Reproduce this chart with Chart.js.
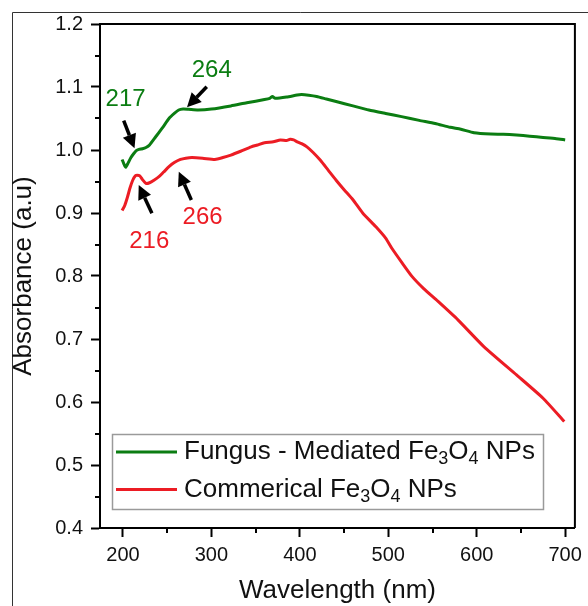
<!DOCTYPE html>
<html>
<head>
<meta charset="utf-8">
<script src="https://cdn.jsdelivr.net/npm/chart.js@4.4.1/dist/chart.umd.min.js"></script>
<style>
  html, body { margin: 0; padding: 0; background: #fff; }
  #wrap { width: 588px; height: 606px; }
</style>
</head>
<body>
<div id="wrap"><canvas id="uvChart" width="588" height="606"></canvas></div>
<script>
// Fungus-mediated Fe3O4 spectrum (wavelength nm / absorbance)
const fungusNm = [199, 201, 203, 206, 209, 212, 215, 218, 222, 226, 230, 237, 245, 252, 258, 263, 268, 274, 285, 300,
    322, 340, 360, 366, 369, 372, 385, 397, 402, 410, 419, 430, 441, 460, 478, 497, 515, 535, 553, 570,
    582, 597, 616, 630, 645, 660, 675, 690, 700];
const fungusAbs = [0.985, 0.978, 0.9725, 0.980, 0.988, 0.994, 0.999, 1.001, 1.002, 1.004, 1.008, 1.021, 1.036, 1.050, 1.058, 1.0635, 1.065, 1.0646, 1.0635, 1.065,
    1.070, 1.075, 1.080, 1.082, 1.085, 1.082, 1.084, 1.0873, 1.088, 1.087, 1.085, 1.081, 1.077, 1.070, 1.0635, 1.058, 1.053, 1.047, 1.042, 1.036,
    1.033, 1.0275, 1.0254, 1.025, 1.0238, 1.022, 1.020, 1.018, 1.016];

// Commercial Fe3O4 spectrum
const commNm = [199, 202, 205, 208, 211, 214, 216, 219, 222, 226, 230, 235, 241, 246, 252, 258, 265, 271, 278, 290,
    304, 313, 322, 333, 345, 352, 360, 370, 378, 385, 389, 393, 397, 402, 408, 415, 423, 432, 441, 450,
    460, 471, 486, 497, 504, 515, 527, 540, 556, 579, 608, 645, 675, 699];
const commAbs = [0.904, 0.912, 0.925, 0.940, 0.952, 0.959, 0.960, 0.959, 0.953, 0.947, 0.948, 0.952, 0.958, 0.965, 0.9735, 0.980, 0.985, 0.987, 0.988, 0.987,
    0.985, 0.988, 0.992, 0.998, 1.005, 1.008, 1.0116, 1.013, 1.016, 1.015, 1.017, 1.016, 1.013, 1.010, 1.005, 0.996, 0.984, 0.968, 0.952, 0.937,
    0.921, 0.900, 0.878, 0.860, 0.844, 0.822, 0.799, 0.780, 0.760, 0.730, 0.688, 0.643, 0.606, 0.569];

const seriesNames = ['Fungus - Mediated Fe₃O₄ NPs', 'Commerical Fe₃O₄ NPs'];
const seriesColors = ['#0b7d12', '#ec1c24'];

// peak labels with arrows (text position + arrow tail/head, in data units)
const peakLabels = ['217', '264', '216', '266'];
const peakSeries = [0, 0, 1, 1];
const peakTextX = [203, 300.4, 229.7, 290];
const peakTextY = [1.081, 1.126, 0.8556, 0.893];
const arrowTail = [[200.8, 1.0465], [294.7, 1.1005], [232.7, 0.8995], [277.3, 0.9206]];
const arrowHead = [[213, 1.0027], [272.4, 1.0678], [217.8, 0.9444], [263.1, 0.9656]];

const fontFamily = '"Liberation Sans", Arial, sans-serif';
Chart.defaults.font.family = fontFamily;
Chart.defaults.color = '#111';

function toPoints(xs, ys) {
    return xs.map((x, i) => ({ x: x, y: ys[i] }));
}

// minor ticks halfway between majors + box frame + outer figure border
const framePlugin = {
    id: 'frame',
    beforeDraw(chart) {
        const ctx = chart.ctx;
        ctx.save();
        ctx.fillStyle = '#fff';
        ctx.fillRect(0, 0, chart.width, chart.height);
        ctx.strokeStyle = '#333';
        ctx.lineWidth = 1;
        ctx.beginPath();
        ctx.moveTo(12.5, chart.height);
        ctx.lineTo(12.5, 12.5);
        ctx.lineTo(chart.width, 12.5);
        ctx.stroke();
        ctx.restore();
    },
    afterDraw(chart) {
        const ctx = chart.ctx;
        const a = chart.chartArea;
        const xs = chart.scales.x, ys = chart.scales.y;
        ctx.save();
        ctx.strokeStyle = '#000';
        ctx.lineWidth = 2;
        ctx.beginPath();
        ctx.moveTo(a.left, a.top);
        ctx.lineTo(a.right, a.top);
        ctx.lineTo(a.right, a.bottom);
        ctx.stroke();
        // minor ticks
        ctx.beginPath();
        for (let i = 0; i < xs.ticks.length - 1; i++) {
            const v = (xs.ticks[i].value + xs.ticks[i + 1].value) / 2;
            const px = Math.round(xs.getPixelForValue(v));
            ctx.moveTo(px, a.bottom);
            ctx.lineTo(px, a.bottom + 5);
        }
        for (let i = 0; i < ys.ticks.length - 1; i++) {
            const v = (ys.ticks[i].value + ys.ticks[i + 1].value) / 2;
            const py = Math.round(ys.getPixelForValue(v));
            ctx.moveTo(a.left, py);
            ctx.lineTo(a.left - 5, py);
        }
        ctx.stroke();
        ctx.restore();
    }
};

// draws text with unicode subscript digits as small lowered characters
function drawRichText(ctx, text, x, y, size) {
    const subs = '₀₁₂₃₄₅₆₇₈₉';
    let cx = x;
    for (const ch of text) {
        const k = subs.indexOf(ch);
        if (k >= 0) {
            ctx.font = Math.round(size * 0.68) + 'px ' + fontFamily;
            ctx.fillText(String(k), cx, y + size * 0.28);
            cx += ctx.measureText(String(k)).width;
        } else {
            ctx.font = size + 'px ' + fontFamily;
            ctx.fillText(ch, cx, y);
            cx += ctx.measureText(ch).width;
        }
    }
}

const legendPlugin = {
    id: 'boxLegend',
    afterDraw(chart) {
        const ctx = chart.ctx;
        const a = chart.chartArea;
        const bx = a.left + 12, by = a.bottom - 94;
        const bw = 431, bh = 75;
        ctx.save();
        ctx.fillStyle = '#fff';
        ctx.fillRect(bx, by, bw, bh);
        ctx.strokeStyle = '#9a9a9a';
        ctx.lineWidth = 1.5;
        ctx.strokeRect(bx + 0.5, by + 0.5, bw, bh);
        chart.data.datasets.forEach((ds, i) => {
            const ly = by + 18 + i * 37.5;
            ctx.strokeStyle = ds.borderColor;
            ctx.lineWidth = 3;
            ctx.beginPath();
            ctx.moveTo(bx + 4, ly);
            ctx.lineTo(bx + 65, ly);
            ctx.stroke();
            ctx.fillStyle = '#111';
            ctx.textBaseline = 'middle';
            ctx.textAlign = 'left';
            drawRichText(ctx, ds.label, bx + 72, ly, 26);
        });
        ctx.restore();
    }
};

const peakPlugin = {
    id: 'peaks',
    afterDatasetsDraw(chart) {
        const ctx = chart.ctx;
        const xs = chart.scales.x, ys = chart.scales.y;
        ctx.save();
        peakLabels.forEach((lab, i) => {
            ctx.font = '24px ' + fontFamily;
            ctx.fillStyle = seriesColors[peakSeries[i]];
            ctx.textAlign = 'center';
            ctx.textBaseline = 'middle';
            ctx.fillText(lab, xs.getPixelForValue(peakTextX[i]), ys.getPixelForValue(peakTextY[i]));

            const x1 = xs.getPixelForValue(arrowTail[i][0]), y1 = ys.getPixelForValue(arrowTail[i][1]);
            const x2 = xs.getPixelForValue(arrowHead[i][0]), y2 = ys.getPixelForValue(arrowHead[i][1]);
            const ang = Math.atan2(y2 - y1, x2 - x1);
            const hl = 14, hw = 7;
            const bxp = x2 - hl * Math.cos(ang), byp = y2 - hl * Math.sin(ang);
            ctx.strokeStyle = '#000';
            ctx.fillStyle = '#000';
            ctx.lineWidth = 3.5;
            ctx.beginPath();
            ctx.moveTo(x1, y1);
            ctx.lineTo(bxp, byp);
            ctx.stroke();
            ctx.beginPath();
            ctx.moveTo(x2, y2);
            ctx.lineTo(bxp + hw * Math.sin(ang), byp - hw * Math.cos(ang));
            ctx.lineTo(bxp - hw * Math.sin(ang), byp + hw * Math.cos(ang));
            ctx.closePath();
            ctx.fill();
        });
        ctx.restore();
    }
};

const ctx = document.getElementById('uvChart').getContext('2d');
const chart = new Chart(ctx, {
    type: 'line',
    data: {
        datasets: [
            {
                label: seriesNames[0],
                data: toPoints(fungusNm, fungusAbs),
                borderColor: seriesColors[0],
                borderWidth: 3,
                pointRadius: 0,
                tension: 0.2
            },
            {
                label: seriesNames[1],
                data: toPoints(commNm, commAbs),
                borderColor: seriesColors[1],
                borderWidth: 3,
                pointRadius: 0,
                tension: 0.2
            }
        ]
    },
    options: {
        responsive: false,
        animation: false,
        layout: {
            padding: { left: 0, top: 24, right: 7, bottom: 0 }
        },
        plugins: {
            legend: { display: false },
            tooltip: { enabled: false }
        },
        scales: {
            x: {
                type: 'linear',
                min: 174,
                max: 711,
                afterFit: (s) => { s.height = 78; },
                border: { display: true, color: '#000', width: 2 },
                grid: {
                    drawOnChartArea: false,
                    drawTicks: true,
                    tickLength: 9,
                    tickWidth: 2,
                    tickColor: '#000'
                },
                ticks: {
                    stepSize: 100,
                    includeBounds: false,
                    padding: 6,
                    maxRotation: 0,
                    color: '#111',
                    font: { size: 20 }
                },
                title: {
                    display: true,
                    text: 'Wavelength (nm)',
                    color: '#111',
                    padding: { top: 0, bottom: 0 },
                    font: { size: 26 }
                }
            },
            y: {
                min: 0.4,
                max: 1.2,
                afterFit: (s) => { s.width = 100; },
                border: { display: true, color: '#000', width: 2 },
                grid: {
                    drawOnChartArea: false,
                    drawTicks: true,
                    tickLength: 9,
                    tickWidth: 2,
                    tickColor: '#000'
                },
                ticks: {
                    stepSize: 0.1,
                    padding: 8,
                    color: '#111',
                    font: { size: 20 },
                    callback: (v) => v.toFixed(1)
                },
                title: {
                    display: true,
                    text: 'Absorbance (a.u)',
                    color: '#111',
                    padding: { top: 8, bottom: 0 },
                    font: { size: 26 }
                }
            }
        }
    },
    plugins: [framePlugin, legendPlugin, peakPlugin]
});
</script>
</body>
</html>
